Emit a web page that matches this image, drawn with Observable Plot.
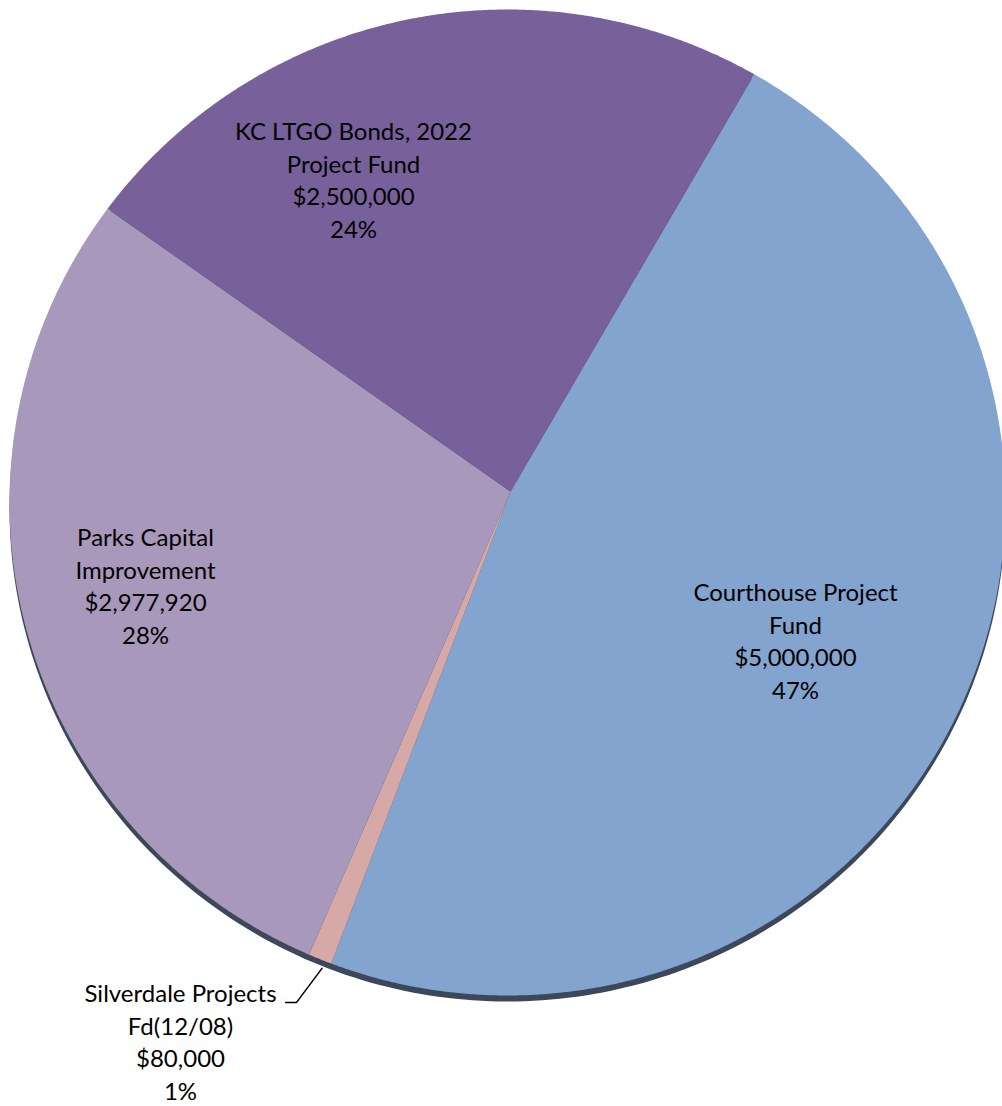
<!DOCTYPE html>
<html><head><meta charset="utf-8">
<script src="https://cdn.jsdelivr.net/npm/d3@7"></script>
<script src="https://cdn.jsdelivr.net/npm/@observablehq/plot@0.6"></script>
<style>
html,body{margin:0;padding:0;background:#fff;overflow:hidden}
#chart svg{display:block}
</style></head><body><div id="chart"></div>
<script>
// ---- data ----
const categories = ["Courthouse Project Fund", "Silverdale Projects Fd(12/08)", "Parks Capital Improvement", "KC LTGO Bonds, 2022 Project Fund"];
const nameLines = [["Courthouse Project", "Fund"], ["Silverdale Projects", "Fd(12/08)"], ["Parks Capital", "Improvement"], ["KC LTGO Bonds, 2022", "Project Fund"]];
const values = [5000000, 80000, 2977920, 2500000];
const percentLabels = ["47%", "1%", "28%", "24%"];
const colors = ["#82a4cf", "#d6a8a6", "#a898bb", "#78609a"];

// ---- layout (pixels) ----
const W = 1002, H = 1106;
const E = {x: 507, y: 502, rx: 498, ry: 493};   // pie outline (slightly tilted)
const apex = {x: 510, y: 491};                  // where the slices meet
const startDeg = 30.3;
const rimDepth = 6;
const labelPos = [[795, 639], [180, 1040], [145, 584], [353, 178]];

const fmt = d3.format("$,");
const pie = d3.pie().sort(null).value(d => d)
  .startAngle(startDeg * Math.PI / 180).endAngle(startDeg * Math.PI / 180 + 2 * Math.PI);
const arcs = pie(values);

function edgePoint(theta, P = apex) {
  const dx = Math.sin(theta), dy = -Math.cos(theta);
  const u = (P.x - E.x) / E.rx, v = (P.y - E.y) / E.ry, a = dx / E.rx, b = dy / E.ry;
  const A = a * a + b * b, B = u * a + v * b, Cc = u * u + v * v - 1;
  const s = (-B + Math.sqrt(B * B - A * Cc)) / A;
  return [P.x + s * dx, P.y + s * dy];
}

const slicePts = [];
arcs.forEach((a, i) => {
  slicePts.push({cat: categories[i], x: apex.x, y: apex.y});
  const n = Math.max(2, Math.ceil((a.endAngle - a.startAngle) / 0.005));
  for (let k = 0; k <= n; k++) {
    const t = a.startAngle + (a.endAngle - a.startAngle) * k / n;
    const [x, y] = edgePoint(t);
    slicePts.push({cat: categories[i], x, y});
  }
});
const rimPts = d3.range(0, 361).map(d => {
  const t = d * Math.PI / 180;
  return {x: E.x + E.rx * Math.sin(t), y: E.y - E.ry * Math.cos(t) + rimDepth};
});

const labels = arcs.map((a, i) => ({
  cat: categories[i],
  x: labelPos[i][0], y: labelPos[i][1],
  text: [...nameLines[i], fmt(values[i]), percentLabels[i]].join("\n")
}));

// leader line for the small slice
const si = 1;
const mid = (arcs[si].startAngle + arcs[si].endAngle) / 2;
const ep = edgePoint(mid);
const lx = labelPos[si][0] + 105, ly = labelPos[si][1] - 38;
const leader = [{x: lx, y: ly}, {x: lx + 11, y: ly}, {x: ep[0] + 2, y: ep[1] + rimDepth + 3}];

const chart = Plot.plot({
  width: W, height: H,
  margin: 0,
  x: {domain: [0, W], range: [0, W], axis: null},
  y: {domain: [0, H], range: [0, H], axis: null},
  color: {domain: categories, range: colors},
  style: {background: "#fff", overflow: "hidden"},
  marks: [
    Plot.line(rimPts, {x: "x", y: "y", fill: "#3c475a", stroke: "none", curve: "linear-closed"}),
    Plot.line(slicePts, {x: "x", y: "y", z: "cat", fill: "cat", stroke: "none", curve: "linear-closed"}),
    Plot.line(leader, {x: "x", y: "y", stroke: "#000", strokeWidth: 1.3}),
    Plot.text(labels, {x: "x", y: "y", text: "text", fill: "#000", fontSize: 24, lineHeight: 1.355,
      fontFamily: "Lato, 'Open Sans', sans-serif", textAnchor: "middle", lineAnchor: "middle"})
  ]
});
document.getElementById("chart").append(chart);
</script></body></html>
